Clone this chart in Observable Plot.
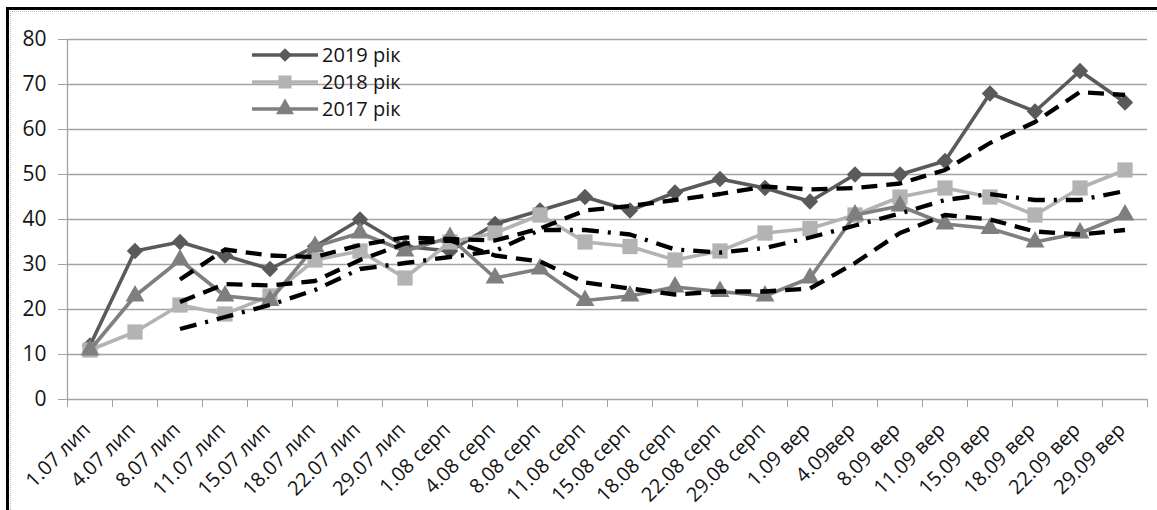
<!DOCTYPE html>
<html>
<head>
<meta charset="utf-8">
<script src="https://cdn.jsdelivr.net/npm/d3@7"></script>
<script src="https://cdn.jsdelivr.net/npm/@observablehq/plot@0.6"></script>
<style>
  html, body { margin: 0; padding: 0; background: #fff; }
  #wrap { position: relative; width: 1157px; height: 510px; overflow: hidden; font-family: "Open Sans", sans-serif; }
  #frameTop { position: absolute; left: 6px; top: 7px; width: 1151px; height: 3px; background: #000; }
  #frameTopIn { position: absolute; left: 10px; top: 11px; width: 1147px; height: 0; border-top: 1px dotted #bbb; }
  #frameLeft { position: absolute; left: 6px; top: 7px; width: 3px; height: 503px; background: #000; }
  #frameLeftIn { position: absolute; left: 10px; top: 11px; width: 0; height: 499px; border-left: 1px dotted #bbb; }
  #chart { position: absolute; left: 0; top: 0; }
  #legend { position: absolute; left: 240px; top: 38px; }
</style>
</head>
<body>
<div id="wrap">
  <div id="chart"></div>
  <div id="frameTop"></div><div id="frameTopIn"></div>
  <div id="frameLeft"></div><div id="frameLeftIn"></div>
  <div id="legend"></div>
</div>
<script>
const labels = ["1.07 лип","4.07 лип","8.07 лип","11.07 лип","15.07 лип","18.07 лип","22.07 лип","29.07 лип",
  "1.08 серп","4.08 серп","8.08 серп","11.08 серп","15.08 серп","18.08 серп","22.08 серп","29.08 серп",
  "1.09 вер","4.09вер","8.09 вер","11.09 вер","15.09 вер","18.09 вер","22.09 вер","29.09 вер"];
const v2019 = [12,33,35,32,29,34,40,34,33,39,42,45,42,46,49,47,44,50,50,53,68,64,73,66];
const v2018 = [11,15,21,19,23,31,33,27,35,37,41,35,34,31,33,37,38,41,45,47,45,41,47,51];
const v2017 = [11,23,31,23,22,34,37,33,36,27,29,22,23,25,24,23,27,41,43,39,38,35,37,41];
const seriesNames = ["2019 рік","2018 рік","2017 рік"];
const seriesColors = ["#5a5a5a","#b3b3b3","#7f7f7f"];
const seriesSymbols = ["diamond2","square","triangle"];
const seriesR = [7.4, 8.6, 7.0];
const trendDash = ["16,9","17,9,3,9","16,9"];
const yTicks = [0,10,20,30,40,50,60,70,80];

const allValues = [v2019, v2018, v2017];
const rows = [];
allValues.forEach((vals, s) => vals.forEach((v, i) => rows.push({i, label: labels[i], s, name: seriesNames[s], value: v})));

const n = labels.length;
const xDomain = [-0.5, n - 0.5];
const boundaries = d3.range(n + 1).map(k => k - 0.5);
const grid = "#a3a3a3";
const textColor = "#141414";

const marks = [
  Plot.ruleY(yTicks.slice(1), {stroke: grid, strokeWidth: 1.3}),
  Plot.axisY({ticks: yTicks, tickSize: 9, tickPadding: 12, stroke: grid, fill: textColor, label: null}),
  Plot.axisX({ticks: boundaries, tickSize: 8, tickFormat: () => "", stroke: grid, label: null}),
  Plot.axisX({ticks: d3.range(n), tickSize: 0, tickFormat: i => labels[i], tickRotate: -45, tickPadding: 27, dx: -3, fill: textColor, label: null}),
  Plot.ruleX([xDomain[0]], {stroke: grid, strokeWidth: 1.3}),
  Plot.ruleY([0], {stroke: grid, strokeWidth: 1.3})
];
for (let s = 0; s < 3; s++) {
  const d = rows.filter(r => r.s === s);
  marks.push(Plot.line(d, {x: "i", y: "value", stroke: seriesColors[s], strokeWidth: 3.6}));
  marks.push(Plot.dot(d, {x: "i", y: "value", fill: seriesColors[s], stroke: "none", symbol: () => seriesSymbols[s], r: seriesR[s]}));
}
for (let s = 0; s < 3; s++) {
  const d = rows.filter(r => r.s === s);
  marks.push(Plot.lineY(d, Plot.windowY({k: 3, anchor: "end", reduce: "mean", strict: true}, {x: "i", y: "value", stroke: "#000", strokeWidth: 4.3, strokeDasharray: trendDash[s], strokeLinecap: "butt"})));
}

const chart = Plot.plot({
  width: 1157,
  height: 510,
  marginLeft: 67,
  marginRight: 10,
  marginTop: 39,
  marginBottom: 111,
  style: {fontFamily: "'Open Sans', sans-serif", fontSize: "21px", background: "transparent", overflow: "visible"},
  x: {type: "linear", domain: xDomain, axis: null},
  y: {domain: [0, 80], axis: null},
  marks
});
d3.select(chart).selectAll('g[aria-label="x-axis tick label"]').attr("font-size", 20);
document.getElementById("chart").append(chart);

// legend
const lg = d3.select("#legend").append("svg").attr("width", 200).attr("height", 90)
  .style("font-family", "'Open Sans', sans-serif");
const legendSymbols = [d3.symbolDiamond2, d3.symbolSquare, d3.symbolTriangle];
const legendSizes = [120, 170, 140];
seriesNames.forEach((name, s) => {
  const cy = 17 + s * 27;
  const g = lg.append("g");
  g.append("line").attr("x1", 12).attr("x2", 78).attr("y1", cy).attr("y2", cy)
    .attr("stroke", seriesColors[s]).attr("stroke-width", 3.6);
  g.append("path").attr("d", d3.symbol(legendSymbols[s], legendSizes[s])())
    .attr("transform", `translate(45,${cy})`).attr("fill", seriesColors[s]);
  g.append("text").attr("x", 82).attr("y", cy + 7).attr("font-size", 20).attr("fill", textColor).text(name);
});
</script>
</body>
</html>
